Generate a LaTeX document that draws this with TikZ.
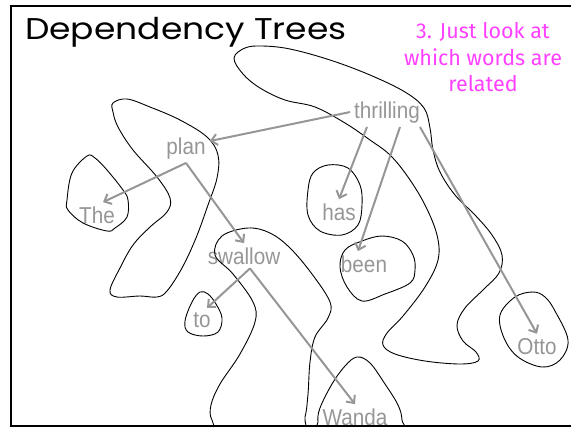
\documentclass[tikz,border=0pt]{standalone}
\usepackage{fontspec}
\usepackage{tikz}
\usetikzlibrary{arrows.meta}
\newfontfamily\titlefont[FakeStretch=1.15]{Poppins}
\newfontfamily\wordfont[FakeStretch=0.9]{Liberation Sans}
\newfontfamily\notefont{Fira Sans}
\definecolor{notepink}{RGB}{255,64,255}
\definecolor{wordgray}{RGB}{150,150,150}

\begin{document}
\begin{tikzpicture}[x=1pt, y=-1pt,
	word/.style={font=\wordfont\fontsize{23}{23}\selectfont, text=wordgray, inner sep=4pt, anchor=base},
	dep/.style={-{Straight Barb[length=6pt,width=11pt]}, line width=2pt, draw=wordgray},
	blob/.style={line width=0.9pt, draw=black}
	]
	\useasboundingbox (0,0) rectangle (571,429);

	\node[font=\titlefont\fontsize{30}{30}\selectfont, anchor=base west, inner sep=0] (title) at (25,39) {Dependency Trees};
	\node[font=\notefont\fontsize{21.5}{26.5}\selectfont, text=notepink, align=center] (note) at (483,57.5) {3. Just look at\\which words are\\related};

	% the words
	\node[word] (thrilling) at (387,118) {thrilling};
	\node[word] (plan) at (186,154) {plan};
	\node[word] (The) at (97,223) {The};
	\node[word] (has) at (339,220) {has};
	\node[word] (swallow) at (244,264) {swallow};
	\node[word] (been) at (364,272) {been};
	\node[word] (to) at (202,327) {to};
	\node[word] (Otto) at (537,354) {Otto};
	\node[word] (Wanda) at (355,425) {Wanda};

	% the groups
	\begin{scope}
	\clip (11,6) rectangle (600,426);
	\draw[blob] plot[smooth cycle, tension=0.6] coordinates {(87,156) (72,173) (67,200) (68,210) (83,223) (107,231) (115,228) (127,217) (128,200) (123,190) (107,170) (95,158)};
	\draw[blob] plot[smooth cycle, tension=0.6] coordinates {(113,103) (127,99) (150,107) (180,120) (207,137) (218,155) (217,178) (208,205) (196,238) (182,268) (167,291) (157,297) (140,296) (117,297) (110,290) (120,268) (133,245) (150,227) (167,212) (170,198) (157,177) (133,150) (118,127) (113,112)};
	\draw[blob] plot[smooth cycle, tension=0.6] coordinates {(234,58) (245,48) (262,46) (290,49) (330,60) (370,75) (405,92) (424,108) (430,128) (433,150) (440,172) (455,195) (475,215) (492,235) (502,255) (499,273) (484,289) (465,308) (457,325) (463,341) (476,352) (478,361) (460,364) (425,361) (395,354) (383,345) (387,333) (403,316) (425,287) (438,260) (437,235) (425,205) (408,177) (390,155) (370,140) (345,123) (315,107) (285,100) (260,88) (243,74)};
	\draw[blob] plot[smooth cycle, tension=0.6] coordinates {(328,165) (348,168) (360,185) (362,205) (358,225) (342,235) (320,231) (308,215) (308,190) (313,173)};
	\draw[blob] plot[smooth cycle, tension=0.6] coordinates {(345,250) (362,241) (382,236) (402,241) (413,255) (415,270) (410,283) (385,294) (362,301) (347,287) (340,267)};
	\draw[blob] plot[smooth cycle, tension=0.6] coordinates {(200,292) (192,302) (185,321) (188,332) (203,336) (218,332) (222,318) (216,304) (208,294)};
	\draw[blob] plot[smooth cycle, tension=0.6] coordinates {(533,292) (515,297) (500,315) (504,338) (518,357) (542,367) (560,360) (568,340) (555,311) (545,297)};
	\draw[blob] plot[smooth cycle, tension=0.6] coordinates {(357,357) (345,366) (332,384) (320,408) (318,422) (322,435) (400,435) (402,420) (398,405) (385,384) (370,363)};
	\draw[blob] plot[smooth cycle, tension=0.6] coordinates {(248,228) (270,233) (290,248) (312,274) (330,302) (328,318) (315,337) (310,362) (308,394) (305,417) (298,430) (225,430) (212,420) (211,405) (220,384) (240,354) (255,322) (253,302) (233,274) (215,255) (222,236)};
	\end{scope}

	% the dependencies
	\draw[dep] (thrilling.west) -- ([yshift=7pt]plan.east);
	\draw[dep] ([xshift=-20pt]thrilling.south) -- (has.north);
	\draw[dep] ([xshift=13pt]thrilling.south) -- ([xshift=-6pt]been.north);
	\draw[dep] ([xshift=33pt]thrilling.south) -- (Otto.north);
	\draw[dep] (plan.south) -- ([xshift=6pt]The.north);
	\draw[dep] (plan.south) -- (swallow.north);
	\draw[dep] ([xshift=6pt]swallow.south) -- ([xshift=5pt]to.north);
	\draw[dep] ([xshift=6pt]swallow.south) -- (Wanda.north);

	\draw[line width=2.5pt] (11,6) rectangle (590,426);
\end{tikzpicture}
\end{document}
